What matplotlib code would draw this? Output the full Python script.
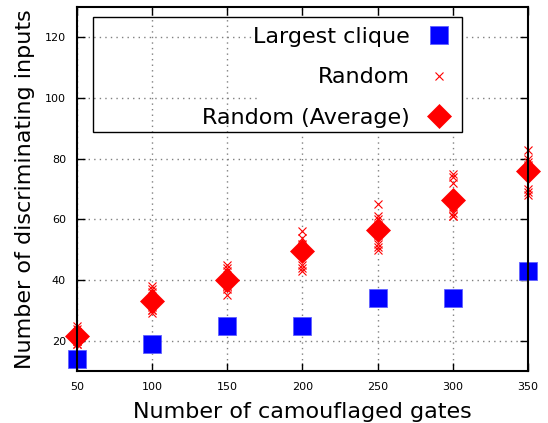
import matplotlib
matplotlib.use("Agg")
import matplotlib.pyplot as plt
from matplotlib.patches import Rectangle

# Data
gates = [50, 100, 150, 200, 250, 300, 350]
largest_clique = [14, 19, 25, 25, 34, 34, 43]
random_avg = [21.6, 33, 40, 49.5, 56.6, 66.3, 76]
random_runs = {
    50: [25, 24, 23, 23, 22, 21, 20, 19, 19, 20],
    100: [38, 37, 36, 34, 33, 32, 31, 30, 30, 29],
    150: [45, 44, 43, 41, 40, 39, 38, 37, 38, 35],
    200: [56, 54, 52, 51, 50, 49, 51, 45, 44, 43],
    250: [65, 61, 60, 58, 57, 56, 55, 52, 51, 50],
    300: [75, 74, 72, 67, 66, 65, 64, 62, 61, 61],
    350: [83, 80, 79, 78, 77, 76, 75, 70, 69, 68],
}
xticks = [50, 100, 150, 200, 250, 300, 350]
yticks = [20, 40, 60, 80, 100, 120]

fig = plt.figure(figsize=(5.48, 4.23), dpi=100)
ax = fig.add_axes([0.1405, 0.1229, 0.823, 0.8606])

# Plot the three series
ax.plot(gates, largest_clique, linestyle='none', marker='s', markersize=12.5,
        color='#0000ff', markeredgecolor='#6060ff', markeredgewidth=0.6,
        clip_on=False, label='Largest clique')
rx = [g for g in gates for _ in random_runs[g]]
ry = [v for g in gates for v in random_runs[g]]
ax.plot(rx, ry, linestyle='none', marker='x', markersize=5.5, color='#ff0000',
        markeredgewidth=0.8, clip_on=False, label='Random')
ax.plot(gates, random_avg, linestyle='none', marker='D', markersize=12,
        color='#ff0000', markeredgecolor='#ff0000', markeredgewidth=0.5,
        clip_on=False, label='Random (Average)')

ax.set_xlim(50, 350)
ax.set_ylim(10, 130)
ax.set_xticks(xticks)
ax.set_yticks(yticks)
ax.tick_params(direction='in', length=6, width=1, labelsize=8,
               top=True, right=True, pad=8)
for sp in ax.spines.values():
    sp.set_linewidth(1.5)
ax.grid(True, color='0.5', linestyle=(0, (1, 3)), linewidth=1)
ax.set_axisbelow(True)

ax.set_xlabel('Number of camouflaged gates', fontsize=16, labelpad=7)
ax.set_ylabel('Number of discriminating inputs', fontsize=16, labelpad=7)

# Legend box: outline over the whole box, white only behind the entries
ax.add_patch(Rectangle((0.0355, 0.657), 0.8185, 0.3155, transform=ax.transAxes,
                       facecolor='none', edgecolor='black', linewidth=1,
                       zorder=4.6))
ax.add_patch(Rectangle((0.399, 0.657), 0.455, 0.3155, transform=ax.transAxes,
                       facecolor='white', edgecolor='none', zorder=1.5))
leg = ax.legend(loc='upper right', bbox_to_anchor=(0.827, 0.945),
                borderaxespad=0, borderpad=0, frameon=False, markerfirst=False,
                numpoints=1, fontsize=16, handlelength=1.0, handletextpad=0.8,
                labelspacing=0.92)

fig.savefig('out.png', dpi=100)
